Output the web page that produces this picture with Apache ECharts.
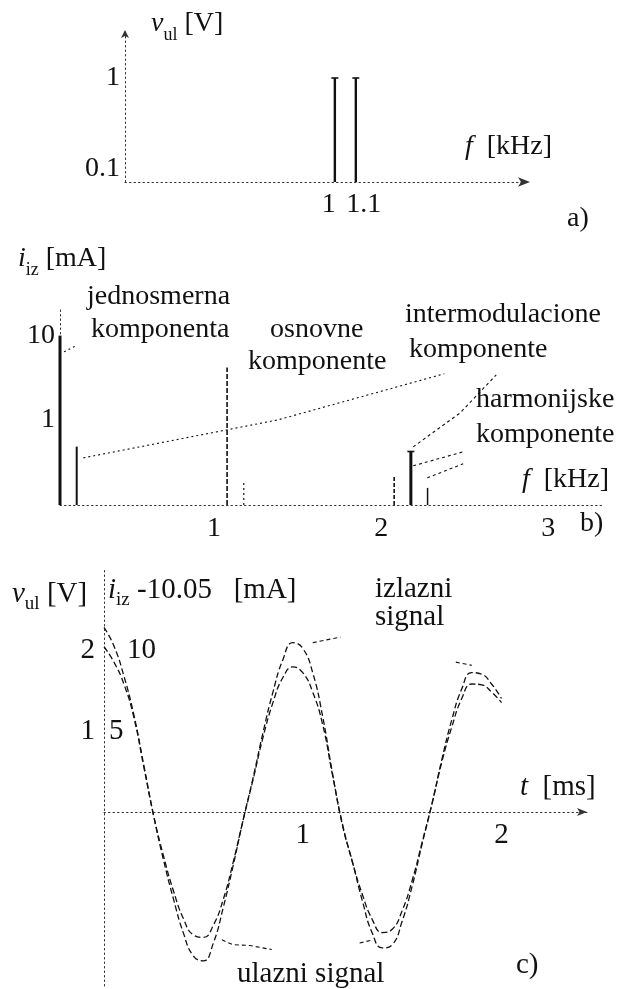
<!DOCTYPE html>
<html>
<head>
<meta charset="utf-8">
<script src="https://cdn.jsdelivr.net/npm/echarts@6/dist/echarts.min.js"></script>
<style>
  html, body { margin: 0; padding: 0; background: #fff; }
  #chart { width: 622px; height: 989px; }
</style>
</head>
<body>
<div id="chart"></div>
<script>
// a) input voltage spectrum: two tones
const inFreq = [1, 1.1];          // kHz
const inAmp = [1, 1];             // V
const inYTicks = [0.1, 1];
const inXTicks = [1, 1.1];

// b) output current spectrum
const outFreq = [0, 0.1, 1, 1.1, 2, 2.1, 2.2];             // kHz
const outAmp = [10.05, 0.48, 4.2, 0.18, 0.22, 0.42, 0.155]; // mA
const outYTicks = [1, 10];
const outXTicks = [1, 2, 3];

// c) waveforms over two milliseconds
const time = [0, 0.05, 0.1, 0.15, 0.2, 0.25, 0.3, 0.35, 0.4, 0.45,
  0.5, 0.55, 0.6, 0.65, 0.7, 0.75, 0.8, 0.85, 0.9, 0.95,
  1, 1.05, 1.1, 1.15, 1.2, 1.25, 1.3, 1.35, 1.4, 1.45,
  1.5, 1.55, 1.6, 1.65, 1.7, 1.75, 1.8, 1.85, 1.9, 1.95, 2];
// input voltage, V
const vIn = [2.04, 1.85, 1.58, 1.17, 0.56, -0.05, -0.55, -0.98, -1.32, -1.52,
  -1.55, -1.40, -1.08, -0.62, -0.10, 0.40, 0.92, 1.35, 1.66, 1.79,
  1.72, 1.48, 1.08, 0.45, -0.15, -0.62, -1.02, -1.33, -1.49, -1.45,
  -1.22, -0.85, -0.38, 0.10, 0.62, 1.05, 1.40, 1.58, 1.57, 1.48, 1.35];
// output current minus its DC part (i_iz - 10.05), mA
const iOut = [11.4, 10.25, 8.4, 6.0, 2.9, -0.25, -3.0, -5.4, -7.5, -8.9,
  -9.2, -8.1, -5.9, -3.3, -0.5, 2.1, 4.9, 7.4, 9.4, 10.45,
  10.1, 8.6, 5.9, 2.35, -0.85, -3.1, -5.5, -7.5, -8.4, -8.2,
  -6.75, -4.6, -2.0, 0.5, 3.25, 5.7, 7.6, 8.6, 8.5, 7.9, 7.0];
const vTicks = [1, 2];
const iTicks = [5, 10];
const tTicks = [1, 2];

// annotation leaders (data coordinates of each panel)
const dcLeader = [[0.024, 6.45], [0.096, 7.6]];
const imLeaderLow = [[0.14, 0.353], [1.305, 1.0], [2.30, 3.53]];
const imLeaderHigh = [[2.114, 0.477], [2.395, 1.21], [2.611, 3.43]];
const hLeader1 = [[2.114, 0.284], [2.413, 0.416]];
const hLeader2 = [[2.198, 0.204], [2.413, 0.30]];
const outLeader1 = [[1.05, 2.09], [1.19, 2.16]];
const outLeader2 = [[1.77, 1.85], [1.85, 1.81]];
const inLeader1 = [[0.593, -1.58], [0.648, -1.64], [0.734, -1.65], [0.844, -1.70]];
const inLeader2 = [[1.286, -1.62], [1.352, -1.58]];

const SERIF = 'Liberation Serif';
const FS = 28;
const FSC = 29;
const INK = '#111';

const chart = echarts.init(document.getElementById('chart'), null, { renderer: 'canvas' });

// axis ranges
const aY = { min: 0.072, max: 3.37 };
const bY = { min: 0.097, max: 22 };
const cV = { min: -2.15, max: 3 };
const cI = { min: -10.75, max: 15 };

function near(v, list) {
  for (const t of list) if (Math.abs(v - t) < 1e-6 * Math.max(1, Math.abs(t))) return t;
  return null;
}
function nearLog(v, list) {
  for (const t of list) if (Math.abs(Math.log10(v) - Math.log10(t)) < 1e-6) return t;
  return null;
}

// line-style of each spectral line in b), keyed by frequency
const bLineLook = {
  0: { w: 3, dash: null, cap: false },
  0.1: { w: 2, dash: null, cap: false },
  1: { w: 1.6, dash: [5, 2], cap: false },
  1.1: { w: 1.2, dash: [2, 3], cap: false },
  2: { w: 1.6, dash: [4, 2], cap: false },
  2.1: { w: 3, dash: null, cap: true },
  2.2: { w: 1.5, dash: null, cap: false }
};

function spectralRenderer(baseValue, lookup) {
  return function (params, api) {
    const f = api.value(0), a = api.value(1);
    const p0 = api.coord([f, baseValue]);
    const p1 = api.coord([f, a]);
    const look = lookup(f);
    const children = [{
      type: 'line',
      shape: { x1: p0[0], y1: p0[1], x2: p1[0], y2: p1[1] },
      style: { stroke: INK, lineWidth: look.w, lineDash: look.dash }
    }];
    if (look.cap) {
      children.push({
        type: 'line',
        shape: { x1: p1[0] - 3.5, y1: p1[1], x2: p1[0] + 3.5, y2: p1[1] },
        style: { stroke: INK, lineWidth: 1.6 }
      });
    }
    return { type: 'group', children };
  };
}

function leader(data, xi, yi, dash) {
  return {
    type: 'line', xAxisIndex: xi, yAxisIndex: yi, data, symbol: 'none',
    silent: true, animation: false,
    lineStyle: { color: INK, width: 1.1, type: dash || [2, 3] }
  };
}

const dotted = { color: '#333', width: 1, type: [1.5, 3] };
function richFor(size) {
  return {
    it: { fontFamily: SERIF, fontSize: size, fontStyle: 'italic', color: INK, lineHeight: 34, verticalAlign: 'top' },
    sub: { fontFamily: SERIF, fontSize: Math.round(size * 0.66), color: INK, lineHeight: 20, verticalAlign: 'bottom' },
    n: { fontFamily: SERIF, fontSize: size, color: INK, lineHeight: 34, verticalAlign: 'top' }
  };
}
function txt(x, y, text, size) {
  const s = size || FS;
  return {
    type: 'text', x, y, silent: true,
    style: {
      text, rich: richFor(s), fontFamily: SERIF, fontSize: s, fill: INK,
      textAlign: 'left', textVerticalAlign: 'middle'
    }
  };
}

const gridC = { left: 104, top: 569, width: 483, height: 417 };
// distance from the bottom of grid c up to its zero line
const cZeroOffset = gridC.height * (0 - cV.min) / (cV.max - cV.min);

const option = {
  backgroundColor: '#fff',
  animation: false,
  grid: [
    { left: 125, top: 30, width: 405, height: 152, outerBoundsMode: 'none' },
    { left: 60, top: 307, width: 543, height: 198, outerBoundsMode: 'none' },
    Object.assign({ outerBoundsMode: 'none' }, gridC)
  ],
  xAxis: [
    {
      gridIndex: 0, type: 'value', min: 0, max: 1.93, interval: 0.1,
      axisLine: { lineStyle: dotted, symbol: ['none', 'arrow'], symbolSize: [7, 12] },
      axisTick: { show: false }, splitLine: { show: false },
      axisLabel: {
        margin: 9, color: INK, fontFamily: SERIF, fontSize: FS,
        formatter: v => {
          const t = near(v, inXTicks);
          if (t === null) return '';
          return t === 1 ? '{l|1}' : '{r|1.1}';
        },
        rich: {
          l: { fontFamily: SERIF, fontSize: FS, color: INK, padding: [0, 12, 0, 0] },
          r: { fontFamily: SERIF, fontSize: FS, color: INK, padding: [0, 0, 0, 16] }
        }
      }
    },
    {
      gridIndex: 1, type: 'value', min: 0, max: 3.25, interval: 1,
      axisLine: { lineStyle: dotted },
      axisTick: { show: false }, splitLine: { show: false },
      axisLabel: {
        margin: 10, color: INK, fontFamily: SERIF, fontSize: FS, padding: [0, 26, 0, 0],
        formatter: v => { const t = near(v, outXTicks); return t === null ? '' : String(t); }
      }
    },
    {
      gridIndex: 2, type: 'value', min: 0, max: 2.43, interval: 1,
      offset: -cZeroOffset,
      axisLine: { onZero: false, lineStyle: dotted, symbol: ['none', 'arrow'], symbolSize: [6, 10] },
      axisTick: { show: false }, splitLine: { show: false },
      axisLabel: {
        margin: 9, color: INK, fontFamily: SERIF, fontSize: FSC,
        formatter: v => { const t = near(v, tTicks); return t === null ? '' : String(t); }
      }
    }
  ],
  yAxis: [
    {
      gridIndex: 0, type: 'log', logBase: 10, min: aY.min, max: aY.max,
      axisLine: { show: true, lineStyle: dotted, symbol: ['none', 'arrow'], symbolSize: [6, 8] },
      axisTick: { show: false }, splitLine: { show: false },
      axisLabel: {
        margin: 5, color: INK, fontFamily: SERIF, fontSize: FS,
        formatter: v => { const t = nearLog(v, inYTicks); return t === null ? '' : String(t); }
      }
    },
    {
      gridIndex: 1, type: 'log', logBase: 10, min: bY.min, max: bY.max,
      axisLine: { show: true, lineStyle: dotted },
      axisTick: { show: false }, splitLine: { show: false },
      axisLabel: {
        margin: 5, color: INK, fontFamily: SERIF, fontSize: FS,
        formatter: v => { const t = nearLog(v, outYTicks); return t === null ? '' : String(t); }
      }
    },
    {
      gridIndex: 2, type: 'value', min: cV.min, max: cV.max, interval: 0.05,
      axisLine: { show: true, onZero: false, lineStyle: dotted },
      axisTick: { show: false }, splitLine: { show: false },
      axisLabel: {
        margin: 9, color: INK, fontFamily: SERIF, fontSize: FSC,
        formatter: v => { const t = near(v, vTicks); return t === null ? '' : String(t); }
      }
    },
    {
      gridIndex: 2, type: 'value', min: cI.min, max: cI.max, interval: 0.25, position: 'left',
      axisLine: { show: false, onZero: false },
      axisTick: { show: false }, splitLine: { show: false },
      axisLabel: {
        inside: true, margin: 5, color: INK, fontFamily: SERIF, fontSize: FSC,
        formatter: v => {
          const t = near(v, iTicks);
          if (t === null) return '';
          return t === 10 ? '{w|10}' : '{n|5}';
        },
        rich: {
          w: { fontFamily: SERIF, fontSize: FSC, color: INK, padding: [0, 0, 0, 18] },
          n: { fontFamily: SERIF, fontSize: FSC, color: INK }
        }
      }
    }
  ],
  series: [
    {
      type: 'custom', xAxisIndex: 0, yAxisIndex: 0,
      data: inFreq.map((f, i) => [f, inAmp[i]]),
      renderItem: spectralRenderer(aY.min, () => ({ w: 2.4, dash: null, cap: true })),
      silent: true
    },
    {
      type: 'custom', xAxisIndex: 1, yAxisIndex: 1,
      data: outFreq.map((f, i) => [f, outAmp[i]]),
      renderItem: spectralRenderer(bY.min, f => bLineLook[Math.round(f * 10) / 10]),
      silent: true
    },
    {
      type: 'line', xAxisIndex: 2, yAxisIndex: 2, name: 'ulazni signal',
      data: time.map((t, i) => [t, vIn[i]]), smooth: true, symbol: 'none',
      lineStyle: { color: INK, width: 1.3, type: [6, 3] }
    },
    {
      type: 'line', xAxisIndex: 2, yAxisIndex: 3, name: 'izlazni signal',
      data: time.map((t, i) => [t, iOut[i]]), smooth: true, symbol: 'none',
      lineStyle: { color: INK, width: 1.3, type: [6, 3] }
    },
    leader(dcLeader, 1, 1),
    leader(imLeaderLow, 1, 1),
    leader(imLeaderHigh, 1, 1, [3, 3]),
    leader(hLeader1, 1, 1, [3, 3]),
    leader(hLeader2, 1, 1, [3, 3]),
    leader(outLeader1, 2, 2, [4, 3]),
    leader(outLeader2, 2, 2, [4, 3]),
    leader(inLeader1, 2, 2, [4, 3]),
    leader(inLeader2, 2, 2, [4, 3])
  ],
  graphic: [
    // a)
    txt(151, 27, '{it|v}{sub|ul}{n| [V]}'),
    txt(465, 150, '{it|f}{n|  [kHz]}'),
    txt(567, 222, '{n|a)}'),
    // b)
    txt(18, 262, '{it|i}{sub|iz}{n| [mA]}'),
    txt(87, 300, '{n|jednosmerna}'),
    txt(91, 333, '{n|komponenta}'),
    txt(270, 333, '{n|osnovne}'),
    txt(248, 365, '{n|komponente}'),
    txt(405, 318, '{n|intermodulacione}'),
    txt(409, 353, '{n|komponente}'),
    txt(476, 403, '{n|harmonijske}'),
    txt(476, 438, '{n|komponente}'),
    txt(522, 483, '{it|f}{n|  [kHz]}'),
    txt(580, 527, '{n|b)}'),
    // c)
    txt(12, 597, '{it|v}{sub|ul}{n| [V]}', FSC),
    txt(108, 593, '{it|i}{sub|iz}{n| -10.05   [mA]}', FSC),
    txt(375, 592, '{n|izlazni}', FSC),
    txt(375, 620, '{n|signal}', FSC),
    txt(520, 790, '{it|t}{n|  [ms]}', FSC),
    txt(237, 977, '{n|ulazni signal}', FSC),
    txt(516, 968, '{n|c)}', FSC)
  ]
};

chart.setOption(option);
</script>
</body>
</html>
